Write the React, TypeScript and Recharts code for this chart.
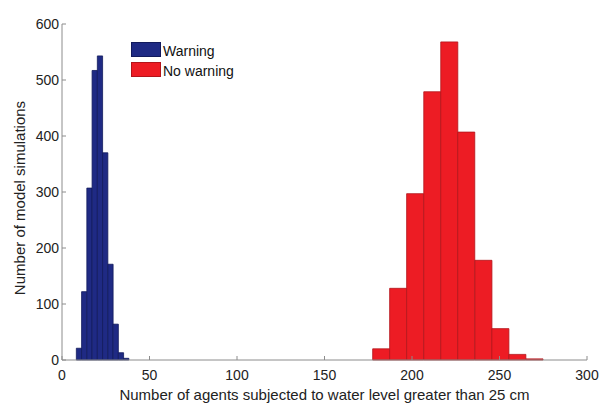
import { ComposedChart, XAxis, YAxis, ReferenceArea, Label } from "recharts";

// histogram bins (bin centre, count)
const warningBinCenters = [9.7, 12.7, 15.7, 18.7, 21.7, 24.7, 27.7, 30.7, 33.7, 36.7];
const warningCounts = [21, 122, 307, 517, 543, 370, 171, 64, 13, 3];
const warningBinWidth = 3.01;

const noWarningBinCenters = [182.4, 192.1, 201.8, 211.6, 221.3, 231.0, 240.8, 250.5, 260.2, 270.0];
const noWarningCounts = [20, 128, 297, 479, 568, 407, 178, 56, 10, 2];
const noWarningBinWidth = 9.74;

const xTicks = [0, 50, 100, 150, 200, 250, 300];
const yTicks = [0, 100, 200, 300, 400, 500, 600];

const seriesNames = ["Warning", "No warning"];

const FONT = "'Liberation Sans', Arial, Helvetica, sans-serif";
const BLUE = "#1f2a84";
const BLUE_EDGE = "#121a5c";
const RED = "#ed1c24";
const RED_EDGE = "#b3141a";
const AXIS = "#8c8c8c";

function bins(centers: number[], counts: number[], width: number) {
  return centers.map((c, i) => ({
    x1: c - width / 2,
    x2: c + width / 2,
    count: counts[i],
  }));
}

export default function App() {
  const warning = bins(warningBinCenters, warningCounts, warningBinWidth);
  const noWarning = bins(noWarningBinCenters, noWarningCounts, noWarningBinWidth);

  return (
    <div
      style={{
        position: "absolute",
        left: 0,
        top: 0,
        width: 606,
        height: 403,
        background: "#fff",
        fontFamily: FONT,
      }}
    >
      <ComposedChart
        width={606}
        height={403}
        data={[]}
        margin={{ top: 24, right: 19, bottom: 1, left: 0 }}
      >
        <XAxis
          type="number"
          dataKey="x"
          domain={[0, 300]}
          ticks={xTicks}
          allowDataOverflow
          height={42}
          tickSize={-4}
          tickMargin={14}
          axisLine={{ stroke: AXIS }}
          tickLine={{ stroke: AXIS }}
          tick={{ fill: "#222", fontSize: 14, fontFamily: FONT }}
        >
          <Label
            value="Number of agents subjected to water level greater than 25 cm"
            position="insideBottom"
            offset={2}
            style={{ fill: "#222", fontSize: 15, fontFamily: FONT }}
          />
        </XAxis>
        <YAxis
          type="number"
          domain={[0, 600]}
          ticks={yTicks}
          allowDataOverflow
          width={62}
          tickSize={-4}
          tickMargin={7}
          axisLine={{ stroke: AXIS }}
          tickLine={{ stroke: AXIS }}
          tick={{ fill: "#222", fontSize: 14, fontFamily: FONT }}
        >
          <Label
            value="Number of model simulations"
            angle={-90}
            position="insideLeft"
            offset={20}
            dy={6}
            style={{ fill: "#222", fontSize: 15, fontFamily: FONT, textAnchor: "middle" }}
          />
        </YAxis>

        {warning.map((b, i) => (
          <ReferenceArea
            key={`w${i}`}
            x1={b.x1}
            x2={b.x2}
            y1={0}
            y2={b.count}
            fill={BLUE}
            fillOpacity={1}
            stroke={BLUE_EDGE}
            strokeOpacity={1}
            strokeWidth={0.8}
            ifOverflow="visible"
          />
        ))}
        {noWarning.map((b, i) => (
          <ReferenceArea
            key={`n${i}`}
            x1={b.x1}
            x2={b.x2}
            y1={0}
            y2={b.count}
            fill={RED}
            fillOpacity={1}
            stroke={RED_EDGE}
            strokeOpacity={1}
            strokeWidth={0.8}
            ifOverflow="visible"
          />
        ))}
      </ComposedChart>

      {/* legend */}
      <div style={{ position: "absolute", left: 131, top: 42, fontSize: 14, color: "#111" }}>
        {seriesNames.map((name, i) => (
          <div
            key={name}
            style={{ display: "flex", alignItems: "flex-end", height: 15, marginBottom: 5 }}
          >
            <span
              style={{
                display: "inline-block",
                width: 30,
                height: 15,
                boxSizing: "border-box",
                background: i === 0 ? BLUE : RED,
                border: `1px solid ${i === 0 ? BLUE_EDGE : RED_EDGE}`,
              }}
            />
            <span style={{ marginLeft: 2, lineHeight: "15px", position: "relative", top: 2 }}>
              {name}
            </span>
          </div>
        ))}
      </div>
    </div>
  );
}
